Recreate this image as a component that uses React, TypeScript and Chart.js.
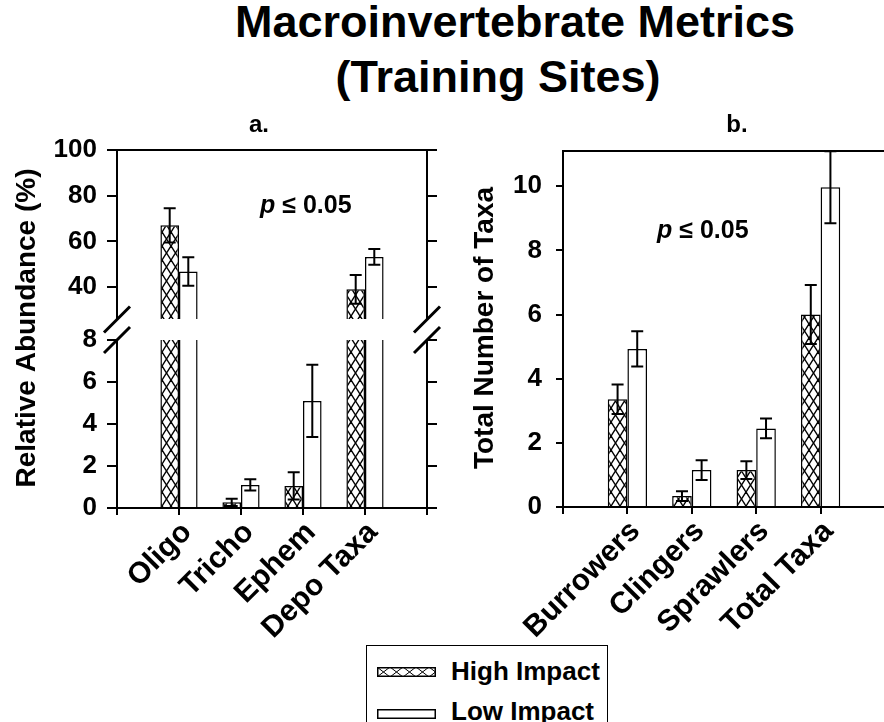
import React, { useEffect, useRef } from 'react';
import { Chart, registerables } from 'chart.js';

Chart.register(...registerables);

const FONT = "'Liberation Sans', Arial, Helvetica, sans-serif";

// ---- data ----
const SERIES = ['High Impact', 'Low Impact'];

const A_CATEGORIES = ['Oligo', 'Tricho', 'Ephem', 'Depo Taxa'];
const A_HIGH = [67.0, 0.27, 1.05, 39.0];
const A_HIGH_ERR = [7.5, 0.17, 0.65, 6.3];
const A_LOW = [46.8, 1.1, 5.1, 53.2];
const A_LOW_ERR = [6.2, 0.27, 1.72, 3.4];
const A_UPPER_TICKS = [40, 60, 80, 100];
const A_LOWER_TICKS = [0, 2, 4, 6, 8];
const A_UPPER_RANGE = [26, 100];
const A_LOWER_RANGE = [0, 8];

const B_CATEGORIES = ['Burrowers', 'Clingers', 'Sprawlers', 'Total Taxa'];
const B_HIGH = [3.36, 0.34, 1.15, 6.0];
const B_HIGH_ERR = [0.46, 0.15, 0.28, 0.92];
const B_LOW = [4.93, 1.15, 2.45, 9.97];
const B_LOW_ERR = [0.55, 0.31, 0.31, 1.12];
const B_TICKS = [0, 2, 4, 6, 8, 10];
const B_RANGE = [0, 11.1];

const TITLE_LINES = ['Macroinvertebrate Metrics', '(Training Sites)'];
const A_YTITLE = 'Relative Abundance (%)';
const B_YTITLE = 'Total Number of Taxa';
const P_TEXT = ['p', ' \u2264 0.05'];

// ---- helpers ----
const padCats = (c: string[]) => ['', ...c, ''];
const padVals = (v: number[]) => [null, ...v, null];
const tickFont = { family: FONT, size: 26, weight: 'bold' as const };
const xTickFont = { family: FONT, size: 30, weight: 'bold' as const };

function makeHatch(): CanvasPattern | string {
  const w = 9, h = 14;
  const c = document.createElement('canvas');
  c.width = w; c.height = h;
  const g = c.getContext('2d');
  if (!g) return '#fff';
  g.fillStyle = '#fff';
  g.fillRect(0, 0, w, h);
  g.strokeStyle = '#000';
  g.lineWidth = 1.4;
  for (const k of [-1, 0, 1]) {
    const o = k * w;
    g.beginPath(); g.moveTo(o - w, -h); g.lineTo(o + 2 * w, 2 * h); g.stroke();
    g.beginPath(); g.moveTo(o + 2 * w, -h); g.lineTo(o - w, 2 * h); g.stroke();
  }
  return g.createPattern(c, 'repeat') || '#fff';
}

const errorBarPlugin = {
  id: 'errorBars',
  afterDatasetsDraw(chart: any) {
    const { ctx, chartArea } = chart;
    ctx.save();
    ctx.beginPath();
    ctx.rect(chartArea.left, chartArea.top - 1, chartArea.right - chartArea.left, chartArea.bottom - chartArea.top + 2);
    ctx.clip();
    ctx.strokeStyle = '#000';
    ctx.lineWidth = 2;
    chart.data.datasets.forEach((ds: any, di: number) => {
      const errs = ds.errors;
      if (!errs) return;
      const meta = chart.getDatasetMeta(di);
      const ys = chart.scales[meta.yAxisID];
      meta.data.forEach((el: any, i: number) => {
        const v = ds.data[i];
        const e = errs[i];
        if (v == null || e == null) return;
        const x = el.x;
        const yt = ys.getPixelForValue(v + e);
        const yb = ys.getPixelForValue(v - e);
        ctx.beginPath();
        ctx.moveTo(x, yt); ctx.lineTo(x, yb);
        ctx.moveTo(x - 6, yt); ctx.lineTo(x + 6, yt);
        ctx.moveTo(x - 6, yb); ctx.lineTo(x + 6, yb);
        ctx.stroke();
      });
    });
    ctx.restore();
  },
};

const topFramePlugin = {
  id: 'topFrame',
  afterDraw(chart: any) {
    const { ctx, chartArea } = chart;
    ctx.save();
    ctx.strokeStyle = '#000';
    ctx.lineWidth = 2;
    ctx.beginPath();
    ctx.moveTo(chartArea.left - 1, chartArea.top);
    ctx.lineTo(chartArea.right + 1, chartArea.top);
    ctx.stroke();
    ctx.restore();
  },
};

function drawPValue(ctx: CanvasRenderingContext2D, x: number, y: number) {
  ctx.textAlign = 'left';
  ctx.textBaseline = 'alphabetic';
  ctx.font = `italic bold 25px ${FONT}`;
  ctx.fillText(P_TEXT[0], x, y);
  const w = ctx.measureText(P_TEXT[0]).width;
  ctx.font = `bold 25px ${FONT}`;
  ctx.fillText(P_TEXT[1], x + w, y);
}

function drawYTitle(ctx: CanvasRenderingContext2D, text: string, cx: number, cy: number) {
  ctx.save();
  ctx.translate(cx, cy);
  ctx.rotate(-Math.PI / 2);
  ctx.font = `bold 28px ${FONT}`;
  ctx.textAlign = 'center';
  ctx.textBaseline = 'middle';
  ctx.fillText(text, 0, 0);
  ctx.restore();
}

function drawPanelLetter(ctx: CanvasRenderingContext2D, text: string, cx: number, y: number) {
  ctx.font = `bold 24px ${FONT}`;
  ctx.textAlign = 'center';
  ctx.textBaseline = 'alphabetic';
  ctx.fillText(text, cx, y);
}

function yAxis(range: number[], ticks: number[], position: string, labels: boolean, tickLen: number, pad: number) {
  return {
    type: 'linear',
    position,
    min: range[0],
    max: range[1],
    afterBuildTicks: (s: any) => { s.ticks = ticks.map((v) => ({ value: v })); },
    afterFit: (s: any) => {
      s.width = labels ? 100 : tickLen;
      s.paddingTop = 0; s.paddingBottom = 0;
    },
    grid: { display: true, drawOnChartArea: false, drawTicks: true, tickLength: tickLen, color: '#000', lineWidth: 2 },
    border: { display: true, color: '#000', width: 2 },
    ticks: { display: labels, padding: pad, font: tickFont, color: '#000' },
  };
}

function xAxis(height: number, tickLen: number) {
  return {
    type: 'category',
    offset: false,
    display: height > 0,
    afterFit: (s: any) => {
      s.height = height;
      s.paddingLeft = 0; s.paddingRight = 0;
    },
    grid: { display: true, drawOnChartArea: false, drawTicks: true, tickLength: tickLen, color: '#000', lineWidth: 2, offset: false },
    border: { display: true, color: '#000', width: 2 },
    ticks: { autoSkip: false, minRotation: 45, maxRotation: 45, padding: 0, labelOffset: 8, font: xTickFont, color: '#000' },
  };
}

function makeDatasets(high: number[], highErr: number[], low: number[], lowErr: number[], hatch: any, catPct: number) {
  const common = {
    borderColor: '#000', borderWidth: 1.5, categoryPercentage: catPct, barPercentage: 1,
    clip: 0, xAxisID: 'x', yAxisID: 'y',
  };
  return [
    { ...common, label: SERIES[0], data: padVals(high), errors: padVals(highErr), backgroundColor: hatch },
    { ...common, label: SERIES[1], data: padVals(low), errors: padVals(lowErr), backgroundColor: '#fff' },
  ];
}

const baseOptions = {
  responsive: false,
  animation: false,
  events: [],
  plugins: { legend: { display: false }, title: { display: false }, tooltip: { enabled: false } },
};

export default function App() {
  const aTopRef = useRef<HTMLCanvasElement>(null);
  const aBotRef = useRef<HTMLCanvasElement>(null);
  const bRef = useRef<HTMLCanvasElement>(null);

  useEffect(() => {
    const hatch = makeHatch();
    const charts: Chart[] = [];

    // Panel a, upper segment
    if (aTopRef.current) {
      charts.push(new Chart(aTopRef.current, {
        type: 'bar',
        data: { labels: padCats(A_CATEGORIES), datasets: makeDatasets(A_HIGH, A_HIGH_ERR, A_LOW, A_LOW_ERR, hatch, 0.6) as any },
        options: {
          ...baseOptions,
          layout: { padding: { left: 17, right: 23, top: 30, bottom: 6 } },
          scales: {
            x: xAxis(0, 7),
            y: yAxis(A_UPPER_RANGE, A_UPPER_TICKS, 'left', true, 10, 10),
            yR: yAxis(A_UPPER_RANGE, A_UPPER_TICKS, 'right', false, 10, 0),
          },
        } as any,
        plugins: [errorBarPlugin, topFramePlugin],
      }));
    }

    // Panel a, lower segment (+ annotations for panel a)
    const aAnnot = {
      id: 'aAnnot',
      afterDraw(chart: any) {
        const { ctx, chartArea } = chart;
        ctx.save();
        ctx.fillStyle = '#000';
        drawPanelLetter(ctx, 'a.', 259, 32);
        drawYTitle(ctx, A_YTITLE, 27, 228);
        drawPValue(ctx, 260, 113);
        // axis break marks
        ctx.strokeStyle = '#000';
        ctx.lineWidth = 3;
        const ys = [chartArea.top - 20.5, chartArea.top];
        for (const x of [chartArea.left, chartArea.right]) {
          for (const y of ys) {
            ctx.beginPath();
            ctx.moveTo(x - 13, y + 13);
            ctx.lineTo(x + 13, y - 13);
            ctx.stroke();
          }
        }
        ctx.restore();
      },
    };
    if (aBotRef.current) {
      charts.push(new Chart(aBotRef.current, {
        type: 'bar',
        data: { labels: padCats(A_CATEGORIES), datasets: makeDatasets(A_HIGH, A_HIGH_ERR, A_LOW, A_LOW_ERR, hatch, 0.6) as any },
        options: {
          ...baseOptions,
          layout: { padding: { left: 17, right: 23, top: 240, bottom: 0 } },
          scales: {
            x: xAxis(137, 7),
            y: yAxis(A_LOWER_RANGE, A_LOWER_TICKS, 'left', true, 10, 10),
            yR: yAxis(A_LOWER_RANGE, A_LOWER_TICKS, 'right', false, 10, 0),
          },
        } as any,
        plugins: [errorBarPlugin, aAnnot],
      }));
    }

    // Panel b
    const bAnnot = {
      id: 'bAnnot',
      afterDraw(chart: any) {
        const { ctx } = chart;
        ctx.save();
        ctx.fillStyle = '#000';
        drawPanelLetter(ctx, 'b.', 297, 32);
        drawYTitle(ctx, B_YTITLE, 45, 228);
        drawPValue(ctx, 217, 138);
        ctx.restore();
      },
    };
    if (bRef.current) {
      charts.push(new Chart(bRef.current, {
        type: 'bar',
        data: { labels: padCats(B_CATEGORIES), datasets: makeDatasets(B_HIGH, B_HIGH_ERR, B_LOW, B_LOW_ERR, hatch, 0.61) as any },
        options: {
          ...baseOptions,
          layout: { padding: { left: 23, right: 35, top: 51, bottom: 0 } },
          scales: {
            x: xAxis(138, 7),
            y: yAxis(B_RANGE, B_TICKS, 'left', true, 7, 14),
          },
        } as any,
        plugins: [errorBarPlugin, topFramePlugin, bAnnot],
      }));
    }

    return () => charts.forEach((c) => c.destroy());
  }, []);

  const text = { position: 'absolute' as const, whiteSpace: 'nowrap' as const, fontFamily: FONT, fontWeight: 'bold' as const, color: '#000' };

  return (
    <div style={{ position: 'absolute', left: 0, top: 0, width: 884, height: 722, overflow: 'hidden', background: '#fff' }}>
      <div style={{ ...text, left: 0, width: 1030, top: -1, textAlign: 'center', fontSize: 45, lineHeight: '45px' }}>{TITLE_LINES[0]}</div>
      <div style={{ ...text, left: 0, width: 996, top: 54, textAlign: 'center', fontSize: 45, lineHeight: '45px' }}>{TITLE_LINES[1]}</div>

      <canvas ref={aTopRef} width={460} height={205} style={{ position: 'absolute', left: 0, top: 120, width: 460, height: 205, zIndex: 1 }} />
      <canvas ref={aBotRef} width={460} height={545} style={{ position: 'absolute', left: 0, top: 100, width: 460, height: 545, zIndex: 2 }} />
      <canvas ref={bRef} width={480} height={545} style={{ position: 'absolute', left: 440, top: 100, width: 480, height: 545, zIndex: 3 }} />

      <div style={{ position: 'absolute', left: 366, top: 645, width: 242, height: 100, border: '1.5px solid #000', boxSizing: 'border-box', zIndex: 4 }} />
      <svg width={59} height={10} style={{ position: 'absolute', left: 377, top: 667, zIndex: 5 }}>
        <defs>
          <pattern id="hatchLegend" width="13" height="10" patternUnits="userSpaceOnUse">
            <rect width="13" height="10" fill="#fff" />
            <path d="M0,0 L13,10 M13,0 L0,10" stroke="#000" strokeWidth="1" />
          </pattern>
        </defs>
        <rect x="0.75" y="0.75" width="57.5" height="8.5" fill="url(#hatchLegend)" stroke="#000" strokeWidth="1.5" />
      </svg>
      <svg width={59} height={10} style={{ position: 'absolute', left: 377, top: 709, zIndex: 5 }}>
        <rect x="0.75" y="0.75" width="57.5" height="8.5" fill="#fff" stroke="#000" strokeWidth="1.5" />
      </svg>
      <div style={{ ...text, left: 451, top: 658, fontSize: 26, lineHeight: '26px', zIndex: 5 }}>{SERIES[0]}</div>
      <div style={{ ...text, left: 451, top: 698, fontSize: 26, lineHeight: '26px', zIndex: 5 }}>{SERIES[1]}</div>
    </div>
  );
}
